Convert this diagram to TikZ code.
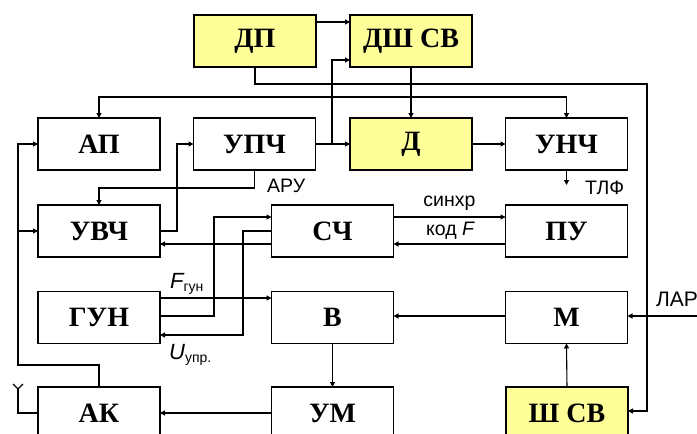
\documentclass[tikz,border=0pt]{standalone}
\usepackage{fontspec}
\setmainfont{Liberation Serif}
\newfontfamily\lblfont{Liberation Sans}
\usetikzlibrary{arrows.meta,positioning,calc}
\definecolor{blkYel}{RGB}{255,255,153}
\tikzset{
  blk/.style={draw, line width=1.1pt, minimum width=122pt, minimum height=52pt,
    inner sep=0pt, outer sep=0pt, font=\bfseries\fontsize{28}{30}\selectfont},
  yblk/.style={blk, fill=blkYel},
  arrln/.style={-{Triangle[length=5pt,width=5pt]}, line width=1.1pt},
  wire/.style={line width=1.1pt},
  lbl/.style={inner sep=0pt, font=\lblfont\fontsize{19.5}{21}\selectfont},
}

\begin{document}
\begin{tikzpicture}[x=1pt, y=-1pt]
    \useasboundingbox (0,0) rectangle (697,434);
    \clip (0,0) rectangle (697,434);
    % blocks
    \node[yblk] (dp)    at (255,41)    {ДП};
    \node[yblk] (dshsv) at (411,41)    {ДШ СВ};
    \node[blk]  (ap)    at (99,144)    {АП};
    \node[blk]  (upch)  at (254.5,144) {УПЧ};
    \node[yblk] (d)     at (411,144)   {Д};
    \node[blk]  (unch)  at (566.5,144) {УНЧ};
    \node[blk]  (uvch)  at (99,231)    {УВЧ};
    \node[blk]  (sch)   at (332.5,231) {СЧ};
    \node[blk]  (pu)    at (566.5,231) {ПУ};
    \node[blk]  (gun)   at (99,317.5)  {ГУН};
    \node[blk]  (v)     at (332.5,317.5) {В};
    \node[blk]  (m)     at (566.5,317.5) {М};
    \node[blk]  (ak)    at (99,413)    {АК};
    \node[blk]  (um)    at (332.5,413) {УМ};
    \node[yblk] (shsv)  at (567,413)   {Ш СВ};
    % receiver path
    \draw[arrln] (dp.east |- 0,22) -- (dshsv.west |- 0,22);
    \draw[arrln] (dp.south) |- (647,84) |- (shsv.east |- 0,411);
    \draw[arrln] (upch.east) -- (d.west);
    \draw[arrln] (332,144) |- (dshsv.west |- 0,60);
    \draw[arrln] (dshsv.south) -- (d.north);
    \draw[arrln] (dshsv.south |- 0,97) -| (ap.north);
    \draw[arrln] (dshsv.south |- 0,97) -| (unch.north);
    \draw[arrln] (d.east) -- (unch.west);
    \draw[arrln] (unch.south) -- ++(0,15) coordinate (tlf);
    \node[lbl, anchor=west] (tlfl) at (585,188) {ТЛФ};
    \draw[arrln] (upch.south) |- (uvch.north |- 0,188) -- (uvch.north);
    \node[lbl, anchor=west] (aru) at (267,186) {АРУ};
    \draw[arrln] (uvch.east) -- (177,231) |- (upch.west);
    \draw[arrln] (ak.north) |- (18,365) |- (ap.west);
    \draw[arrln] (18,231) -- (uvch.west);
    % synthesizer
    \draw[arrln] (gun.east |- 0,316) -- (214,316) |- (sch.west |- 0,217);
    \draw[arrln] (sch.west) -| (243,335) -- (gun.east |- 0,335);
    \draw[arrln] (sch.west |- 0,244) -- (uvch.east |- 0,244);
    \draw[arrln] (gun.east |- 0,298) -- (v.west |- 0,298);
    \node[lbl, anchor=west] (fgun) at (170,284)
      {\fontsize{22}{23}\selectfont\itshape F\raisebox{-3.5pt}{\upshape\fontsize{14}{15}\selectfont гун}};
    \node[lbl, anchor=west] (uupr) at (169,355)
      {\fontsize{22}{23}\selectfont\itshape U\raisebox{-3.5pt}{\upshape\fontsize{14}{15}\selectfont упр.}};
    \draw[arrln] (sch.east |- 0,217) -- (pu.west |- 0,217);
    \draw[arrln] (pu.west |- 0,244) -- (sch.east |- 0,244);
    \node[lbl] (sync) at (449.5,203) {синхр};
    \node[lbl] (kodf) at (450.5,231) {код \textit{F}};
    % transmitter path
    \coordinate (lar) at (697,316);
    \draw[arrln] (lar) -- (m.east |- lar);
    \node[lbl, anchor=west, font=\lblfont\fontsize{21}{22}\selectfont] (larl) at (656,299) {ЛАР};
    \draw[arrln] (m.west |- 0,316) -- (v.east |- 0,316);
    \draw[arrln] (shsv.north) -- (m.south);
    \draw[arrln] (v.south) -- (um.north);
    \draw[arrln] (um.west) -- (ak.east);
    % antenna
    \draw[wire] (ak.west) -- (18,413) -- (18,389);
    \draw[wire] (13,384) -- (18,389) -- (23,384);
\end{tikzpicture}
\end{document}
